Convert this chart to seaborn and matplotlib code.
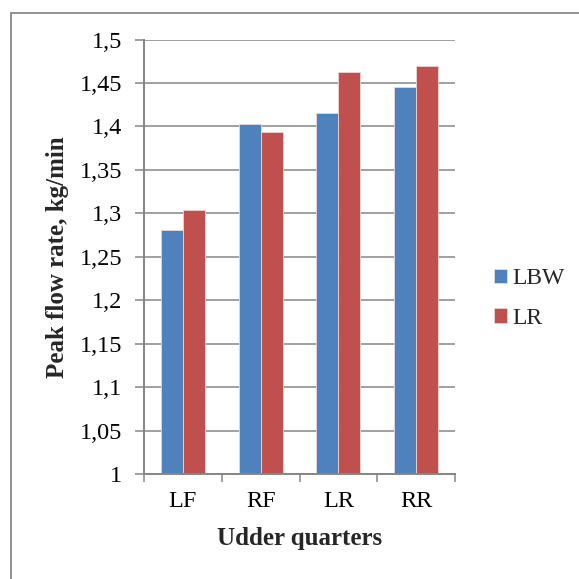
import matplotlib
matplotlib.use("Agg")
import matplotlib.pyplot as plt
from matplotlib.patches import Rectangle
from matplotlib.ticker import FuncFormatter, MultipleLocator, FixedLocator
import pandas as pd
import seaborn as sns

# Peak flow rate by udder quarter for the two breeds
quarters = ["LF", "RF", "LR", "RR"]
breeds = ["LBW", "LR"]
lbw_values = [1.281, 1.403, 1.415, 1.445]
lr_values = [1.304, 1.394, 1.463, 1.470]
y_ticks = [1.0, 1.05, 1.1, 1.15, 1.2, 1.25, 1.3, 1.35, 1.4, 1.45, 1.5]

df = pd.DataFrame({
    "quarter": quarters * 2,
    "breed": [breeds[0]] * 4 + [breeds[1]] * 4,
    "value": lbw_values + lr_values,
})

sns.set_theme(style="white")
plt.rcParams["font.family"] = ["Liberation Serif", "DejaVu Serif"]

W = H = 579
fig = plt.figure(figsize=(W / 100, H / 100), dpi=100)
ax = fig.add_axes([144 / W, 105 / H, 311 / W, 434.5 / H])

grid_col = "#868686"
ax.set_axisbelow(True)
ax.yaxis.grid(True, color=grid_col, linewidth=1.1)

sns.barplot(
    data=df, x="quarter", y="value", hue="breed", order=quarters,
    hue_order=breeds, palette=["#4F81BD", "#C0504D"], width=0.566,
    gap=0, edgecolor="#E8D8D8", linewidth=0.6, saturation=1, ax=ax,
    errorbar=None,
)

ax.set_ylim(1.0, 1.5)
ax.set_xlim(-0.5, len(quarters) - 0.5)
ax.yaxis.set_major_locator(FixedLocator(y_ticks))
ax.yaxis.set_major_formatter(
    FuncFormatter(lambda v, _: f"{v:.2f}".rstrip("0").rstrip(".").replace(".", ","))
)
ax.xaxis.set_minor_locator(MultipleLocator(1, offset=0.5))

for side in ("top", "right"):
    ax.spines[side].set_visible(False)
for side in ("left", "bottom"):
    ax.spines[side].set_color(grid_col)
    ax.spines[side].set_linewidth(1.4)

ax.tick_params(axis="y", which="major", length=6.5, width=1.1, color=grid_col,
               pad=9, labelsize=17.5, labelcolor="black", left=True)
ax.tick_params(axis="x", which="major", length=0, pad=12, labelsize=17.5,
               labelcolor="black")
ax.tick_params(axis="x", which="minor", length=5.8, width=1.1, color=grid_col,
               bottom=True)

ax.set_xlabel("Udder quarters", fontsize=18, fontweight="bold")
ax.set_ylabel("Peak flow rate, kg/min", fontsize=18, fontweight="bold")
ax.xaxis.set_label_coords(0.5, (40 - 105) / 434.5)
ax.xaxis.label.set_va("center")
ax.yaxis.set_label_coords((57 - 144) / 311, 0.5)
ax.yaxis.label.set_va("center")

leg = ax.legend(
    loc="center left", bbox_to_anchor=(494 / W, 1 - 298.4 / H),
    bbox_transform=fig.transFigure, frameon=False, fontsize=17,
    handlelength=0.54, handleheight=0.54, handletextpad=0.22,
    labelspacing=0.8, borderpad=0, borderaxespad=0, title=None,
)

# Chart-area outline
fig.patches.append(Rectangle((10.5 / W, -0.05), 1.0, 1 - 12.5 / H + 0.05,
                             transform=fig.transFigure, fill=False,
                             edgecolor="#888888", linewidth=1.3, clip_on=False))

fig.savefig("out.png", dpi=100)
